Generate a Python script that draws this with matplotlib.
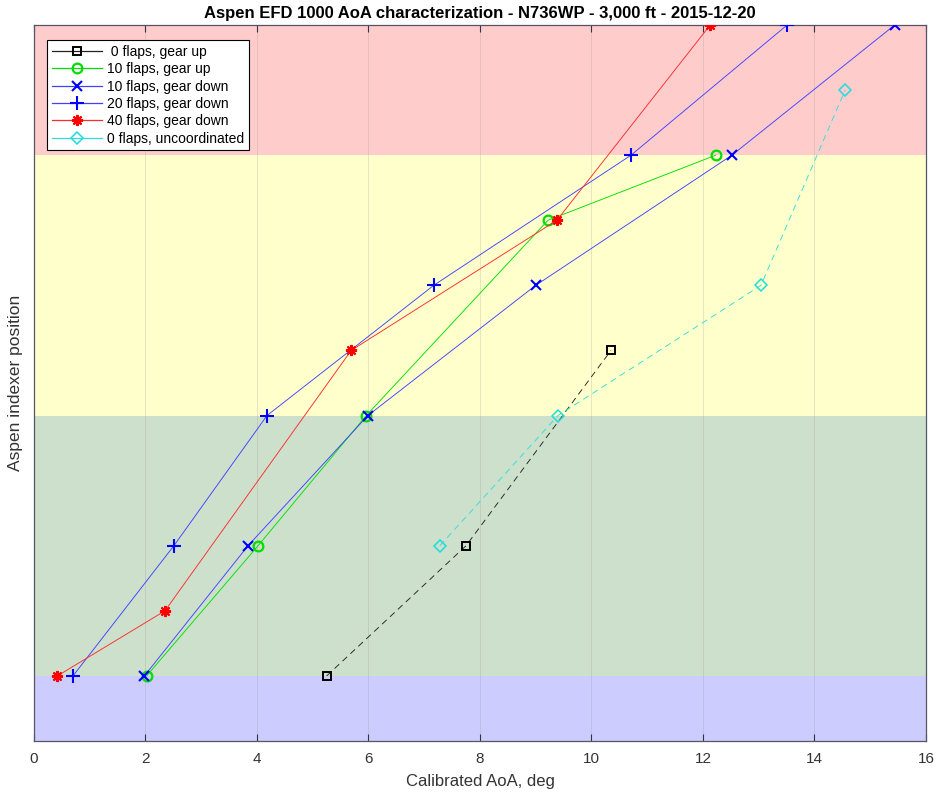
import matplotlib
matplotlib.use("Agg")
import matplotlib.pyplot as plt

plt.rcParams['font.family'] = ['Liberation Sans', 'DejaVu Sans']

title = "Aspen EFD 1000 AoA characterization - N736WP - 3,000 ft - 2015-12-20"
xlabel = "Calibrated AoA, deg"
ylabel = "Aspen indexer position"

f0_up_x = [5.25, 7.75, 10.35]
f0_up_y = [1, 3, 6]
f10_up_x = [2.02, 4.02, 5.96, 9.22, 12.23]
f10_up_y = [1, 3, 5, 8, 9]
f10_dn_x = [1.98, 3.84, 5.99, 9.0, 12.52, 15.44]
f10_dn_y = [1, 3, 5, 7, 9, 11]
f20_dn_x = [0.70, 2.51, 4.18, 7.17, 10.71, 13.51]
f20_dn_y = [1, 3, 5, 7, 9, 11]
f40_dn_x = [0.42, 2.35, 5.69, 9.38, 12.13]
f40_dn_y = [1, 2, 6, 8, 11]
f0_unc_x = [7.28, 9.40, 13.04, 14.55]
f0_unc_y = [3, 5, 7, 10]

labels = [" 0 flaps, gear up", "10 flaps, gear up", "10 flaps, gear down",
          "20 flaps, gear down", "40 flaps, gear down", "0 flaps, uncoordinated"]

band_lo = [0, 1, 5, 9]
band_hi = [1, 5, 9, 11]
band_col = ['#ccccff', '#cce0cc', '#ffffcc', '#ffcccc']

xticks = [0, 2, 4, 6, 8, 10, 12, 14, 16]

fig = plt.figure(figsize=(9.38, 7.95), dpi=100)
ax = fig.add_axes([0.0362, 0.0679, 0.9510, 0.9007])

for lo, hi, c in zip(band_lo, band_hi, band_col):
    ax.axhspan(lo, hi, color=c, zorder=0, lw=0)

for xv in xticks[1:-1]:
    ax.axvline(xv, color='#999999', lw=0.6, alpha=0.3, zorder=1)

lw = 0.65
ax.plot(f0_up_x, f0_up_y, color='#222222', ls=(0, (7, 5)), lw=lw, marker='s',
        mfc='none', mec='black', ms=6, mew=1.4, label=labels[0], zorder=3)
ax.plot(f10_up_x, f10_up_y, color='#00e000', lw=lw, marker='o',
        mfc='none', mec='#00dd00', ms=7, mew=1.6, label=labels[1], zorder=3)
ax.plot(f10_dn_x, f10_dn_y, color='#4040ff', lw=lw, marker='x',
        mec='#0000ff', ms=7, mew=1.5, label=labels[2], zorder=3)
ax.plot(f20_dn_x, f20_dn_y, color='#4040ff', lw=lw, marker='+',
        mec='#0000ff', ms=10, mew=1.5, label=labels[3], zorder=3)
ax.plot(f40_dn_x, f40_dn_y, color='#ff2a2a', lw=lw, marker=(8, 2, 0),
        mec='#ff0000', ms=8, mew=1.5, label=labels[4], zorder=3)
ax.plot(f0_unc_x, f0_unc_y, color='#30dddd', ls=(0, (7, 5)), lw=lw, marker='D',
        mfc='none', mec='#20dddd', ms=6, mew=1.1, label=labels[5], zorder=3)

ax.set_xlim(0, 16)
ax.set_ylim(0, 11)
ax.set_xticks(xticks)
ax.set_yticks([])
ax.tick_params(axis='x', direction='in', top=True, length=5, labelsize=11,
               labelcolor='#333333', color='#333344', pad=8)
for s in ax.spines.values():
    s.set_color('#555566')
    s.set_linewidth(0.9)

ax.set_title(title, fontsize=12, fontweight='bold', pad=5)
ax.set_xlabel(xlabel, fontsize=12, color='#333333', labelpad=6)
ax.set_ylabel(ylabel, fontsize=12.5, color='#333333', labelpad=8)

leg = ax.legend(loc='upper left', bbox_to_anchor=(0.0146, 0.979), borderaxespad=0,
                fontsize=10, frameon=True, fancybox=False, edgecolor='black',
                framealpha=1, borderpad=0.35, labelspacing=0.24,
                handlelength=3.6, handletextpad=0.4)
leg.get_frame().set_linewidth(0.8)
for ln in leg.get_lines():
    ln.set_linestyle('-')
    ln.set_linewidth(0.9)

fig.savefig("out.png", dpi=100)
